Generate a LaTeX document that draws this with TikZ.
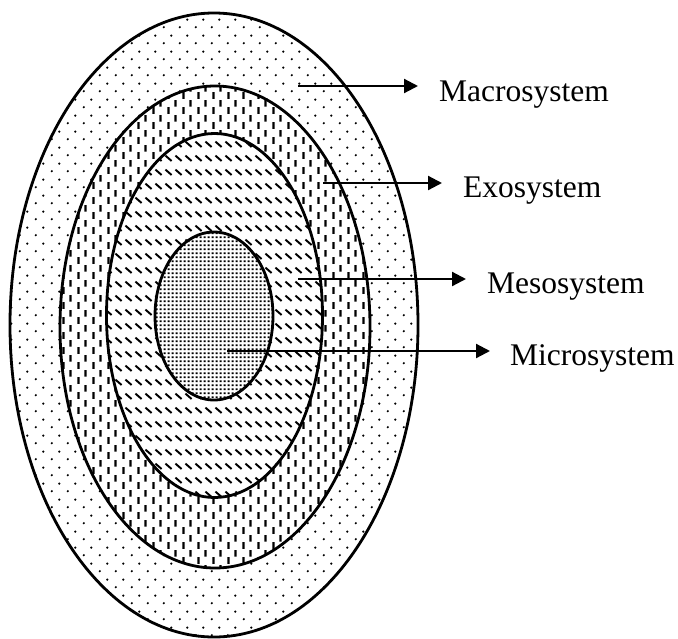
\documentclass[tikz,border=0pt]{standalone}
\usepackage{fontspec}
\setmainfont{Liberation Serif}
\usetikzlibrary{arrows.meta,patterns}

\pgfdeclarepatternformonly{macrodots}{\pgfqpoint{0pt}{0pt}}{\pgfqpoint{15.5pt}{15.6pt}}{\pgfqpoint{15.5pt}{15.6pt}}{%
  \pgfpathcircle{\pgfqpoint{3.9pt}{3.9pt}}{1.25pt}%
  \pgfpathcircle{\pgfqpoint{11.65pt}{11.7pt}}{1.25pt}%
  \pgfusepath{fill}%
}
\pgfdeclarepatternformonly{exodash}{\pgfqpoint{0pt}{0pt}}{\pgfqpoint{15pt}{15pt}}{\pgfqpoint{15pt}{15pt}}{%
  \pgfsetlinewidth{2.4pt}%
  \pgfpathmoveto{\pgfqpoint{3.75pt}{0.25pt}}\pgfpathlineto{\pgfqpoint{3.75pt}{7.25pt}}%
  \pgfpathmoveto{\pgfqpoint{11.25pt}{7.75pt}}\pgfpathlineto{\pgfqpoint{11.25pt}{14.75pt}}%
  \pgfusepath{stroke}%
}
\pgfdeclarepatternformonly{mesodash}{\pgfqpoint{0pt}{0pt}}{\pgfqpoint{9.5pt}{13.7pt}}{\pgfqpoint{9.5pt}{13.7pt}}{%
  \pgfsetlinewidth{2pt}%
  \pgfpathmoveto{\pgfqpoint{1.5pt}{9.6pt}}\pgfpathlineto{\pgfqpoint{8pt}{4.1pt}}%
  \pgfusepath{stroke}%
}
\pgfdeclarepatternformonly{microdots}{\pgfqpoint{0pt}{0pt}}{\pgfqpoint{3.7pt}{4.2pt}}{\pgfqpoint{3.7pt}{4.2pt}}{%
  \pgfpathrectangle{\pgfqpoint{0.8pt}{1.05pt}}{\pgfqpoint{2.1pt}{2.1pt}}%
  \pgfusepath{fill}%
}

\begin{document}
\begin{tikzpicture}[x=1pt,y=-1pt,
  ring/.style={line width=2.8pt},
  arr/.style={line width=2.2pt,-{Triangle[length=14pt,width=14pt]}},
  lbl/.style={anchor=base west,inner sep=0pt,font=\fontsize{31.5}{36}\selectfont}]
\useasboundingbox (0,0) rectangle (678,638);

% fills
\path[preaction={fill=white},pattern=macrodots] (214,325) ellipse [x radius=204,y radius=312];
\path[preaction={fill=white},pattern=exodash] (215,327) ellipse [x radius=155,y radius=241];
\path[preaction={fill=white},pattern=mesodash] (214.5,315.5) ellipse [x radius=108,y radius=182];
\path[preaction={fill=white},pattern=microdots] (214,316) ellipse [x radius=59,y radius=84];

% outlines
\draw[ring] (214,325) ellipse [x radius=204,y radius=312];
\draw[ring] (215,327) ellipse [x radius=155,y radius=241];
\draw[ring] (214.5,315.5) ellipse [x radius=108,y radius=182];
\draw[ring] (214,316) ellipse [x radius=59,y radius=84];

% labels
\node[lbl] (tMa) at (439,101) {Macrosystem};
\node[lbl] (tEx) at (463,197) {Exosystem};
\node[lbl] (tMe) at (487,293) {Mesosystem};
\node[lbl] (tMi) at (510,365) {Microsystem};

% arrow starts
\coordinate (sMa) at (298,86);
\coordinate (sEx) at (323,183);
\coordinate (sMe) at (298,279);
\coordinate (sMi) at (227,351);

\draw[arr] (sMa) -- ([xshift=-21pt]sMa -| tMa.west);
\draw[arr] (sEx) -- ([xshift=-21pt]sEx -| tEx.west);
\draw[arr] (sMe) -- ([xshift=-21pt]sMe -| tMe.west);
\draw[arr] (sMi) -- ([xshift=-20pt]sMi -| tMi.west);
\end{tikzpicture}
\end{document}
